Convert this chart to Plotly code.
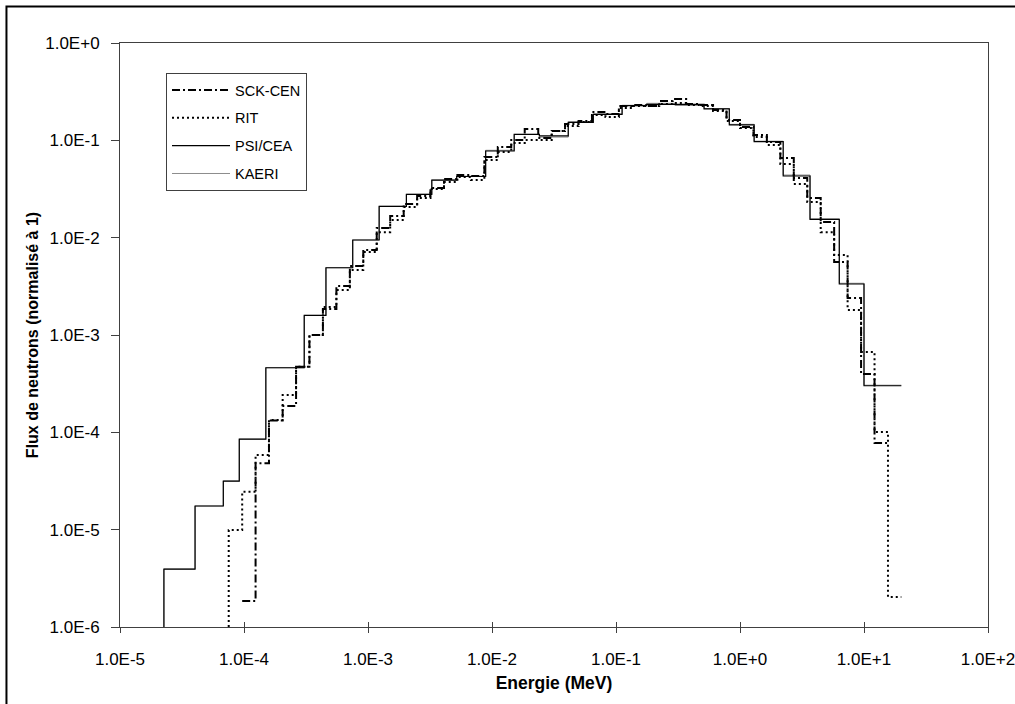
import plotly.graph_objects as go

# ---------------- data ----------------
Y_FLOOR = 1e-6  # bottom of the y axis, where the first vertical steps start

# PSI/CEA : bin edges (MeV) and group flux
psi_edges = [2.26e-5, 4.03e-5, 6.81e-5, 9.16e-5, 1.50e-4, 3.06e-4, 4.58e-4, 7.53e-4,
             1.23e-3, 2.04e-3, 3.27e-3, 5.19e-3, 8.89e-3, 1.51e-2, 2.41e-2, 4.12e-2,
             6.56e-2, 0.112, 0.177, 0.299, 0.513, 0.820, 1.30, 2.23, 3.67, 6.32, 10.0, 20.0]
psi_values = [3.94e-6, 1.75e-5, 3.16e-5, 8.5e-5, 4.61e-4, 1.59e-3, 4.91e-3, 9.46e-3,
              0.0210, 0.0279, 0.0391, 0.0425, 0.0777, 0.115, 0.111, 0.153,
              0.185, 0.227, 0.234, 0.234, 0.210, 0.144, 0.0968, 0.0430, 0.0154, 3.34e-3, 3.01e-4]

# KAERI : same group structure as PSI/CEA
kaeri_edges = psi_edges
kaeri_values = [3.94e-6, 1.75e-5, 3.16e-5, 8.5e-5, 4.61e-4, 1.59e-3, 4.91e-3, 9.46e-3,
                0.0210, 0.0279, 0.0391, 0.0428, 0.0790, 0.115, 0.108, 0.155,
                0.187, 0.229, 0.240, 0.228, 0.212, 0.146, 0.0980, 0.0440, 0.0156, 3.40e-3, 3.05e-4]

# RIT : fine group structure (MeV)
rit_edges = [7.53e-5, 9.67e-5, 1.24e-4, 1.59e-4, 2.05e-4, 2.63e-4, 3.37e-4, 4.33e-4,
             5.56e-4, 7.14e-4, 9.16e-4, 1.176e-3, 1.51e-3, 1.94e-3, 2.49e-3, 3.19e-3,
             4.10e-3, 5.26e-3, 6.76e-3, 8.68e-3, 1.114e-2, 1.43e-2, 1.836e-2, 2.36e-2,
             3.03e-2, 3.88e-2, 4.99e-2, 6.40e-2, 8.22e-2, 0.1055, 0.1354, 0.1739,
             0.2232, 0.2866, 0.3679, 0.4723, 0.6063, 0.7785, 1.0, 1.283,
             1.647, 2.115, 2.715, 3.486, 4.475, 5.745, 7.376, 9.47, 12.16, 15.61, 20.0]
rit_values = [9.92e-6, 2.45e-5, 5.85e-5, 1.34e-4, 2.42e-4, 4.72e-4, 1.00e-3, 1.94e-3,
              2.90e-3, 4.66e-3, 7.12e-3, 0.0114, 0.0152, 0.0207, 0.0255, 0.0316,
              0.0373, 0.0420, 0.0391, 0.0628, 0.0759, 0.0939, 0.1008, 0.1008,
              0.1247, 0.140, 0.154, 0.182, 0.174, 0.215, 0.225, 0.225,
              0.236, 0.242, 0.231, 0.225, 0.200, 0.158, 0.134, 0.108,
              0.0895, 0.0571, 0.0356, 0.0232, 0.0114, 6.64e-3, 1.81e-3, 6.69e-4,
              1.01e-4, 2.03e-6]

# SCK-CEN : fine group structure (MeV)
sck_edges = [9.67e-5, 1.24e-4, 1.59e-4, 2.05e-4, 2.63e-4, 3.37e-4, 4.33e-4,
             5.56e-4, 7.14e-4, 9.16e-4, 1.176e-3, 1.51e-3, 1.94e-3, 2.49e-3, 3.19e-3,
             4.10e-3, 5.26e-3, 6.76e-3, 8.68e-3, 1.114e-2, 1.43e-2, 1.836e-2, 2.36e-2,
             3.03e-2, 3.88e-2, 4.99e-2, 6.40e-2, 8.22e-2, 0.1055, 0.1354, 0.1739,
             0.2232, 0.2866, 0.3679, 0.4723, 0.6063, 0.7785, 1.0, 1.283,
             1.647, 2.115, 2.715, 3.486, 4.475, 5.745, 7.376, 9.47, 12.16, 15.61]
sck_values = [1.85e-6, 4.81e-5, 1.32e-4, 1.86e-4, 4.72e-4, 1.00e-3, 1.85e-3,
              3.19e-3, 5.12e-3, 7.47e-3, 0.01257, 0.0167, 0.0222, 0.0268, 0.0324,
              0.0401, 0.0440, 0.0430, 0.0674, 0.0854, 0.1008, 0.1307, 0.1057,
              0.1247, 0.147, 0.158, 0.195, 0.186, 0.225, 0.231, 0.225,
              0.254, 0.266, 0.236, 0.231, 0.205, 0.162, 0.137, 0.1134,
              0.0961, 0.0658, 0.0410, 0.0255, 0.0145, 5.62e-3, 2.40e-3, 3.97e-4, 7.77e-5]

x_tickvals = [1e-5, 1e-4, 1e-3, 1e-2, 1e-1, 1e0, 1e1, 1e2]
x_ticktext = ["1.0E-5", "1.0E-4", "1.0E-3", "1.0E-2", "1.0E-1", "1.0E+0", "1.0E+1", "1.0E+2"]
y_tickvals = [1e-6, 1e-5, 1e-4, 1e-3, 1e-2, 1e-1, 1e0]
y_ticktext = ["1.0E-6", "1.0E-5", "1.0E-4", "1.0E-3", "1.0E-2", "1.0E-1", "1.0E+0"]

# ---------------- figure ----------------
FONT = "Liberation Sans, Arial, sans-serif"
AX = "#404040"


def step_xy(edges, values, from_floor):
    xs = list(edges)
    ys = list(values) + [values[-1]]
    if from_floor:
        xs = [edges[0]] + xs
        ys = [Y_FLOOR] + ys
    return xs, ys


fig = go.Figure()

x, y = step_xy(kaeri_edges, kaeri_values, True)
fig.add_trace(go.Scatter(x=x, y=y, mode="lines", line_shape="hv", name="KAERI",
                         legendrank=4, legendgroup="d",
                         line=dict(color="#8c8c8c", width=1)))
x, y = step_xy(sck_edges, sck_values, False)
fig.add_trace(go.Scatter(x=x, y=y, mode="lines", line_shape="hv", name="SCK-CEN",
                         legendrank=1, legendgroup="a",
                         line=dict(color="black", width=2, dash="8px,3px,2px,3px")))
x, y = step_xy(rit_edges, rit_values, True)
fig.add_trace(go.Scatter(x=x, y=y, mode="lines", line_shape="hv", name="RIT",
                         legendrank=2, legendgroup="b",
                         line=dict(color="black", width=2, dash="2px,3px")))
x, y = step_xy(psi_edges, psi_values, True)
fig.add_trace(go.Scatter(x=x, y=y, mode="lines", line_shape="hv", name="PSI/CEA",
                         legendrank=3, legendgroup="c",
                         line=dict(color="black", width=1.2)))
# helper (empty) trace so the overlay x axis with inward ticks exists
fig.add_trace(go.Scatter(x=[], y=[], xaxis="x2", yaxis="y", showlegend=False,
                         hoverinfo="skip"))

fig.update_layout(
    template="none",
    width=1015, height=704,
    margin=dict(l=120, r=27, t=43, b=77, autoexpand=False),
    paper_bgcolor="white", plot_bgcolor="white",
    font=dict(family=FONT, size=16, color="black"),
    showlegend=True,
    legend=dict(x=0.053, y=0.9486, xanchor="left", yanchor="top",
                bgcolor="white", bordercolor=AX, borderwidth=1,
                font=dict(family=FONT, size=14.5, color="black"),
                traceorder="grouped", tracegroupgap=6, itemwidth=58),
    xaxis=dict(type="log", range=[-5, 2], tickvals=x_tickvals, ticktext=x_ticktext,
               automargin=False, ticklabeloverflow="allow",
               ticks="outside", ticklen=5, tickcolor=AX, tickwidth=1,
               showline=True, linecolor=AX, linewidth=1, mirror=True,
               showgrid=False, zeroline=False, ticklabelstandoff=12,
               tickfont=dict(family=FONT, size=17, color="black"),
               title=dict(text="<b>Energie (MeV)</b>", standoff=8,
                          font=dict(family=FONT, size=17.5, color="black"))),
    xaxis2=dict(type="log", range=[-5, 2], overlaying="x", anchor="y", side="bottom",
                automargin=False,
                tickvals=x_tickvals, ticks="inside", ticklen=5, tickcolor=AX,
                showticklabels=False, showgrid=False, zeroline=False, showline=False),
    yaxis=dict(type="log", range=[-6, 0], tickvals=y_tickvals, ticktext=y_ticktext,
               automargin=False, ticklabeloverflow="allow",
               ticks="outside", ticklen=8, tickcolor=AX, tickwidth=1,
               showline=True, linecolor=AX, linewidth=1, mirror=True,
               showgrid=False, zeroline=False, ticklabelstandoff=8,
               tickfont=dict(family=FONT, size=17, color="black"),
               title=dict(text="<b>Flux de neutrons (normalisé à 1)</b>", standoff=2,
                          font=dict(family=FONT, size=16, color="black"))),
    shapes=[dict(type="rect", xref="paper", yref="paper",
                 x0=-0.1308, x1=1.06, y0=-0.25, y1=1.0625,
                 line=dict(color="black", width=2), fillcolor="rgba(0,0,0,0)",
                 layer="below")],
)

fig.write_html("out.html")
